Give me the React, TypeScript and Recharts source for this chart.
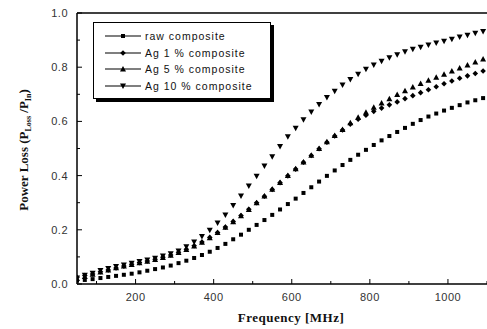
import React from 'react';
import { LineChart, Line, XAxis, YAxis, ReferenceLine, Legend } from 'recharts';

// frequency in MHz
const freq = [
  50, 70, 90, 110, 130, 150, 170, 190, 210, 230, 250, 270, 290, 310, 330, 350, 370, 390,
  410, 430, 450, 470, 490, 510, 530, 550, 570, 590, 610, 630, 650, 670, 690, 710, 730, 750,
  770, 790, 810, 830, 850, 870, 890, 910, 930, 950, 970, 990, 1010, 1030, 1050, 1070, 1090,
];

// power loss P_Loss / P_In for each sample
const raw = [
  0.012, 0.015, 0.018, 0.022, 0.026, 0.03, 0.034, 0.038, 0.043, 0.049, 0.055, 0.061, 0.068, 0.077, 0.086, 0.096, 0.107, 0.119,
  0.133, 0.148, 0.165, 0.182, 0.2, 0.218, 0.236, 0.255, 0.275, 0.295, 0.315, 0.336, 0.357, 0.378, 0.399, 0.419, 0.439, 0.458,
  0.477, 0.495, 0.513, 0.53, 0.546, 0.561, 0.576, 0.591, 0.605, 0.618, 0.629, 0.64, 0.65, 0.66, 0.67, 0.678, 0.686,
];
const ag1 = [
  0.025, 0.031, 0.037, 0.045, 0.052, 0.059, 0.066, 0.073, 0.079, 0.085, 0.091, 0.099, 0.107, 0.117, 0.128, 0.141, 0.155, 0.172,
  0.19, 0.21, 0.231, 0.253, 0.276, 0.3, 0.324, 0.349, 0.374, 0.399, 0.424, 0.449, 0.474, 0.499, 0.523, 0.546, 0.568, 0.59,
  0.608, 0.623, 0.637, 0.649, 0.661, 0.672, 0.684, 0.695, 0.706, 0.717, 0.728, 0.739, 0.749, 0.759, 0.768, 0.777, 0.786,
];
const ag5 = [
  0.02, 0.028, 0.036, 0.044, 0.052, 0.06, 0.066, 0.072, 0.078, 0.084, 0.09, 0.098, 0.106, 0.116, 0.127, 0.14, 0.154, 0.171,
  0.19, 0.209, 0.23, 0.252, 0.275, 0.3, 0.325, 0.35, 0.375, 0.4, 0.425, 0.45, 0.475, 0.5, 0.525, 0.548, 0.57, 0.595,
  0.615, 0.634, 0.652, 0.668, 0.684, 0.699, 0.713, 0.727, 0.74, 0.752, 0.763, 0.774, 0.786, 0.797, 0.808, 0.819, 0.83,
];
const ag10 = [
  0.022, 0.032, 0.04, 0.05, 0.057, 0.065, 0.07, 0.077, 0.083, 0.089, 0.095, 0.103, 0.112, 0.122, 0.137, 0.155, 0.175, 0.198,
  0.225, 0.255, 0.29, 0.325, 0.362, 0.398, 0.435, 0.47, 0.507, 0.543, 0.575, 0.606, 0.635, 0.662, 0.688, 0.711, 0.734, 0.755,
  0.774, 0.792, 0.808, 0.822, 0.835, 0.846, 0.857, 0.866, 0.874, 0.882, 0.889, 0.896, 0.903, 0.911, 0.918, 0.925, 0.932,
];

const xTicks = [100, 200, 300, 400, 500, 600, 700, 800, 900, 1000, 1100];
const yTicks = [0, 0.1, 0.2, 0.3, 0.4, 0.5, 0.6, 0.7, 0.8, 0.9, 1.0];

const seriesNames = ['raw composite', 'Ag 1 % composite', 'Ag 5 % composite', 'Ag 10 % composite'];

const data = freq.map((f, i) => ({ f, raw: raw[i], ag1: ag1[i], ag5: ag5[i], ag10: ag10[i] }));

type Kind = 'square' | 'diamond' | 'up' | 'down';

function Marker({ kind, cx, cy }: { kind: Kind; cx: number; cy: number }) {
  if (kind === 'square') return <rect x={cx - 2} y={cy - 2} width={4} height={4} fill="#000" />;
  if (kind === 'diamond')
    return <polygon points={`${cx},${cy - 2.8} ${cx + 2.8},${cy} ${cx},${cy + 2.8} ${cx - 2.8},${cy}`} fill="#000" />;
  if (kind === 'up')
    return <polygon points={`${cx},${cy - 3} ${cx + 3},${cy + 2.5} ${cx - 3},${cy + 2.5}`} fill="#000" />;
  return <polygon points={`${cx},${cy + 3} ${cx + 3},${cy - 2.5} ${cx - 3},${cy - 2.5}`} fill="#000" />;
}

const dotFor = (kind: Kind) => (p: any) =>
  p.cx == null || p.cy == null ? <g key={p.index} /> : <Marker key={p.index} kind={kind} cx={p.cx} cy={p.cy} />;

const tickFont = { fontFamily: 'Liberation Sans, Arial, sans-serif', fontSize: 11, fill: '#333', letterSpacing: 0.5 };

function XTick(props: any) {
  const { x, y, payload } = props;
  const major = payload.value % 200 === 0;
  return (
    <g>
      <line x1={x} y1={y} x2={x} y2={y - (major ? 5 : 3)} stroke="#000" strokeWidth={1} />
      {major && (
        <text x={x} y={y + 17} textAnchor="middle" {...tickFont}>
          {payload.value}
        </text>
      )}
    </g>
  );
}

function YTick(props: any) {
  const { x, y, payload } = props;
  const v = Math.round(payload.value * 10);
  const major = v % 2 === 0;
  return (
    <g>
      <line x1={x} y1={y} x2={x + (major ? 5 : 3)} y2={y} stroke="#000" strokeWidth={1} />
      {major && (
        <text x={x - 9} y={y + 4} textAnchor="end" {...tickFont}>
          {payload.value.toFixed(1)}
        </text>
      )}
    </g>
  );
}

const kinds: Kind[] = ['square', 'diamond', 'up', 'down'];

function LegendBox() {
  return (
    <div
      style={{
        border: '1.5px solid #000',
        boxShadow: '3px 3px 0 #000',
        background: '#fff',
        width: 178,
        padding: '5px 0 4px 10px',
        boxSizing: 'border-box',
      }}
    >
      {seriesNames.map((name, i) => (
        <div key={name} style={{ display: 'flex', alignItems: 'center', height: 16.5 }}>
          <svg width={38} height={10}>
            <line x1={1} y1={5} x2={37} y2={5} stroke="#000" strokeWidth={1.2} />
            <Marker kind={kinds[i]} cx={19} cy={5} />
          </svg>
          <span
            style={{
              fontFamily: 'Liberation Sans, Arial, sans-serif',
              fontSize: 10.5,
              letterSpacing: 1,
              marginLeft: 3,
              color: '#111',
            }}
          >
            {name}
          </span>
        </div>
      ))}
    </div>
  );
}

function YLabel() {
  return (
    <text
      transform="rotate(-90, 28, 150)"
      x={28}
      y={150}
      textAnchor="middle"
      fontFamily="Liberation Serif, Times New Roman, serif"
      fontWeight="bold"
      fontSize={13}
      fill="#111"
    >
      Power Loss (P
      <tspan fontSize={8} dy={3}>Loss</tspan>
      <tspan dy={-3}> /P</tspan>
      <tspan fontSize={8} dy={3}>In</tspan>
      <tspan dy={-3}>)</tspan>
    </text>
  );
}

export default function App() {
  return (
    <div style={{ position: 'absolute', left: 0, top: 0, width: 487, height: 329, background: '#fff' }}>
      <LineChart width={487} height={329} data={data} margin={{ top: 13, right: 0, bottom: 0, left: 0 }}>
        <XAxis
          dataKey="f"
          type="number"
          domain={[50, 1100]}
          ticks={xTicks}
          interval={0}
          allowDataOverflow
          height={45}
          tickSize={0}
          tickMargin={0}
          tickLine={false}
          axisLine={{ stroke: '#000', strokeWidth: 1.5 }}
          tick={<XTick />}
        />
        <YAxis
          type="number"
          domain={[0, 1]}
          ticks={yTicks}
          interval={0}
          width={77}
          tickSize={0}
          tickMargin={0}
          tickLine={false}
          axisLine={{ stroke: '#000', strokeWidth: 1.5 }}
          tick={<YTick />}
          label={{ content: () => <YLabel /> }}
        />
        <ReferenceLine y={1} stroke="#000" strokeWidth={1.5} />
        <Legend
          layout="vertical"
          align="center"
          verticalAlign="middle"
          content={() => <LegendBox />}
          wrapperStyle={{ left: 93, top: 22, width: 182 }}
        />
        <Line dataKey="raw" stroke="none" dot={dotFor('square')} isAnimationActive={false} />
        <Line dataKey="ag1" stroke="none" dot={dotFor('diamond')} isAnimationActive={false} />
        <Line dataKey="ag5" stroke="none" dot={dotFor('up')} isAnimationActive={false} />
        <Line dataKey="ag10" stroke="none" dot={dotFor('down')} isAnimationActive={false} />
        <text
          x={291}
          y={322}
          textAnchor="middle"
          fontFamily="Liberation Serif, Times New Roman, serif"
          fontWeight="bold"
          fontSize={13}
          letterSpacing={0.5}
          fill="#111"
        >
          Frequency [MHz]
        </text>
      </LineChart>
    </div>
  );
}
